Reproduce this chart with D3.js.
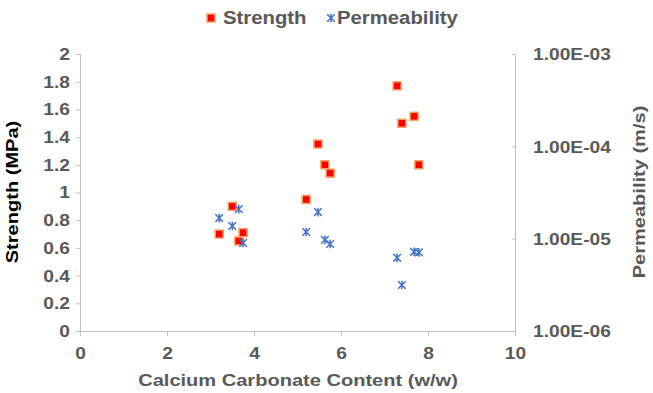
<!DOCTYPE html>
<html><head><meta charset="utf-8">
<script src="https://cdn.jsdelivr.net/npm/d3@7"></script>
<style>body{margin:0;background:#fff}svg{display:block}text{font-family:"Liberation Sans",Arial,sans-serif;font-weight:bold}</style>
</head><body>
<svg id="c" width="653" height="393"></svg>
<script>
const strengthX = [3.2, 3.5, 3.65, 3.75, 5.2, 5.47, 5.63, 5.75, 7.29, 7.4, 7.68, 7.79];
const strengthY = [0.70, 0.90, 0.65, 0.71, 0.95, 1.35, 1.20, 1.14, 1.77, 1.50, 1.55, 1.20];
const permX = [3.2, 3.65, 3.5, 3.75, 5.2, 5.47, 5.63, 5.75, 7.29, 7.4, 7.68, 7.79];
const permY = [1.67e-5, 2.09e-5, 1.37e-5, 9.0e-6, 1.18e-5, 1.94e-5, 9.7e-6, 8.75e-6, 6.2e-6, 3.15e-6, 7.2e-6, 7.1e-6];
const xTicks = [0, 2, 4, 6, 8, 10];
const yTicks = [0, 0.2, 0.4, 0.6, 0.8, 1, 1.2, 1.4, 1.6, 1.8, 2];
const y2Ticks = [1e-6, 1e-5, 1e-4, 1e-3];
const y2Labels = ["1.00E-06", "1.00E-05", "1.00E-04", "1.00E-03"];

const svg = d3.select("#c");
const L = 80, R = 515, T = 54, B = 331;
const x = d3.scaleLinear().domain([0, 10]).range([L, R]);
const y = d3.scaleLinear().domain([0, 2]).range([B, T]);
const y2 = d3.scaleLog().domain([1e-6, 1e-3]).range([B, T]);
const axisCol = "#BFBFBF", txtCol = "#595959";
const K = 1.13;

function stretch(sel, k){
  sel.each(function(){
    const t = d3.select(this);
    const ax = +(t.attr("x") || 0);
    t.attr("transform", `translate(${ax},0) scale(${k},1) translate(${-ax},0)`);
  });
}
function style(g){
  g.selectAll("path,line").attr("stroke", axisCol).attr("stroke-width", 1);
  g.selectAll("text").attr("fill", txtCol).style("font-size", "17px").style("font-weight", "bold")
   .style("font-family", '"Liberation Sans",Arial,sans-serif');
  stretch(g.selectAll("text"), K);
}
const gx = svg.append("g").attr("transform", `translate(0,${B})`)
  .call(d3.axisBottom(x).tickValues(xTicks).tickSize(5).tickSizeOuter(0).tickPadding(11).tickFormat(d3.format("d")));
style(gx);
const gy = svg.append("g").attr("transform", `translate(${L},0)`)
  .call(d3.axisLeft(y).tickValues(yTicks).tickSize(4).tickSizeOuter(0).tickPadding(6).tickFormat(d => d3.format("")(+d.toFixed(1))));
style(gy);
const gy2 = svg.append("g").attr("transform", `translate(${R},0)`)
  .call(d3.axisRight(y2).tickValues(y2Ticks).tickSize(-3).tickSizeOuter(0).tickPadding(18).tickFormat((d,i) => y2Labels[i]));
gy2.selectAll("text").attr("dy", "0.35em");
style(gy2);

// titles
svg.append("text").attr("transform", `translate(18,192) rotate(-90) scale(1.18,1)`).attr("text-anchor","middle")
  .style("font-size","17px").attr("fill","#000").text("Strength (MPa)");
svg.append("text").attr("transform", `translate(645,192) rotate(-90) scale(1.18,1)`).attr("text-anchor","middle")
  .style("font-size","17px").attr("fill",txtCol).text("Permeability (m/s)");
svg.append("text").attr("transform", `translate(298,386) scale(1.18,1)`).attr("text-anchor","middle")
  .style("font-size","17px").attr("fill",txtCol).text("Calcium Carbonate Content (w/w)");

// markers
function cross(g, cx, cy, s){
  const p = `M${cx-s},${cy-s}L${cx+s},${cy+s}M${cx-s},${cy+s}L${cx+s},${cy-s}M${cx},${cy-s-0.5}L${cx},${cy+s+0.5}`;
  g.append("path").attr("d", p).attr("stroke", "#4472C4").attr("stroke-width", 1.5).attr("fill","none");
}
const gs = svg.append("g");
strengthX.forEach((v,i) => {
  gs.append("rect").attr("x", x(v)-4).attr("y", y(strengthY[i])-4).attr("width", 8).attr("height", 8)
    .attr("fill", "#FF0000").attr("stroke", "#F4A460").attr("stroke-width", 1.5);
});
const gp = svg.append("g");
permX.forEach((v,i) => cross(gp, x(v), y2(permY[i]), 3.8));

// legend
const lg = svg.append("g");
lg.append("rect").attr("x", 207).attr("y", 14).attr("width", 8).attr("height", 8)
  .attr("fill","#FF0000").attr("stroke","#F4A460").attr("stroke-width",1.5);
const t1 = lg.append("text").attr("x", 223).attr("y", 24).style("font-size","18px").attr("fill",txtCol).text("Strength");
cross(lg, 331, 18, 3.8);
const t2 = lg.append("text").attr("x", 337).attr("y", 24).style("font-size","18px").attr("fill",txtCol).text("Permeability");
stretch(lg.selectAll("text"), K);
</script>
</body></html>
